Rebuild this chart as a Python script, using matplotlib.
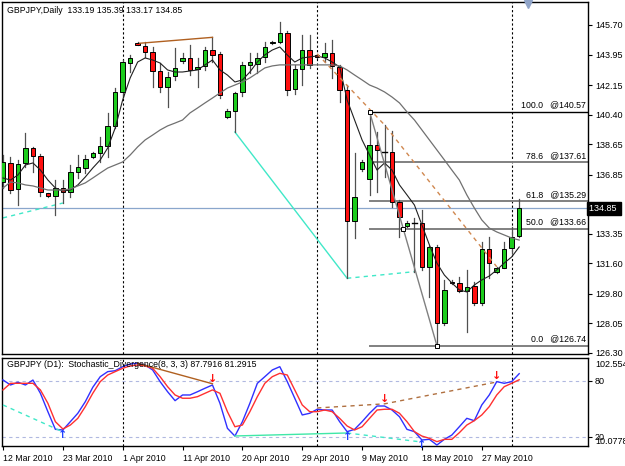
import matplotlib.pyplot as plt
import matplotlib.transforms as mtransforms
import numpy as np

# daily candles, bar 1 = 12 Mar 2010 ... bar 70 = last bar
opens = [136.43, 137.56, 136.00, 137.52, 138.41, 137.95, 135.75, 135.59, 136.04, 135.84,
         137.02, 137.26, 137.88, 138.15, 138.54, 139.73, 141.76, 143.44, 144.62, 144.46,
         144.12, 143.00, 142.02, 142.68, 143.59, 143.73, 143.08, 143.28, 144.22, 143.99,
         140.24, 140.63, 141.76, 143.34, 143.39, 143.79, 144.62, 144.71, 145.25, 141.90,
         143.08, 144.22, 143.93, 143.79, 144.06, 143.23, 141.86, 134.13, 137.17, 136.57,
         138.60, 138.21, 138.21, 135.25, 133.81, 134.01, 134.01, 131.40, 132.59, 128.06,
         130.52, 130.42, 129.99, 130.26, 129.26, 132.43, 131.11, 131.31, 132.49, 133.19]
highs = [138.01, 137.91, 137.72, 139.30, 138.50, 138.07, 135.79, 136.53, 136.53, 137.42,
         138.01, 138.01, 138.21, 139.09, 140.48, 141.96, 143.63, 143.93, 144.67, 144.71,
         144.42, 143.45, 142.94, 144.32, 144.03, 144.52, 143.73, 144.42, 144.97, 144.12,
         140.71, 141.76, 143.53, 144.06, 144.06, 144.71, 144.75, 145.90, 145.36, 143.34,
         145.11, 145.11, 143.99, 144.62, 144.81, 143.34, 142.15, 138.11, 137.69, 140.57,
         139.39, 139.79, 139.45, 135.35, 134.08, 134.27, 134.76, 132.63, 132.69, 130.62,
         130.59, 130.81, 131.21, 130.52, 132.88, 133.14, 131.40, 132.88, 133.77, 135.39]
lows = [136.06, 135.75, 135.05, 137.32, 137.02, 135.59, 135.53, 134.46, 135.15, 135.55,
        136.63, 136.96, 137.82, 137.62, 137.91, 139.59, 141.46, 142.94, 144.49, 143.83,
        142.05, 141.76, 140.83, 142.45, 143.44, 142.74, 142.02, 143.04, 143.53, 141.37,
        140.18, 139.37, 141.50, 142.84, 142.88, 143.53, 144.58, 144.62, 141.56, 141.62,
        142.15, 143.14, 143.73, 143.53, 142.55, 141.16, 130.72, 133.08, 137.08, 135.65,
        135.84, 136.73, 134.95, 133.14, 133.75, 131.11, 131.21, 129.63, 126.74, 127.96,
        130.38, 129.93, 127.56, 129.14, 129.14, 130.72, 131.05, 131.30, 132.20, 133.17]
closes = [137.62, 135.94, 137.48, 138.41, 137.95, 135.84, 135.59, 136.04, 135.84, 137.02,
          137.28, 137.76, 138.15, 138.54, 139.73, 141.76, 143.53, 143.73, 144.52, 144.12,
          143.00, 142.02, 142.64, 143.14, 143.73, 143.04, 143.23, 144.22, 143.93, 141.56,
          140.61, 141.70, 143.34, 143.49, 143.73, 144.38, 144.71, 145.21, 141.86, 143.08,
          144.22, 143.34, 143.79, 144.03, 143.28, 141.86, 134.13, 135.51, 137.62, 138.60,
          138.31, 138.19, 135.25, 134.36, 134.01, 134.00, 131.40, 132.59, 128.06, 130.03,
          130.42, 129.99, 130.22, 129.28, 132.43, 131.61, 131.31, 132.43, 133.14, 134.85]

ma_fast = [136.65, 136.53, 136.83, 137.42, 137.54, 137.12, 136.53, 136.06, 135.88, 135.94,
           136.24, 136.71, 137.24, 137.72, 138.43, 139.61, 141.27, 142.57, 143.51, 143.75,
           143.63, 143.45, 143.04, 142.92, 142.92, 142.98, 143.04, 143.34, 143.63, 143.04,
           142.74, 142.33, 142.45, 142.92, 143.51, 143.93, 144.22, 144.40, 143.93, 143.51,
           143.75, 143.81, 143.87, 143.75, 143.51, 143.22, 141.27, 140.08, 138.90, 138.01,
           137.12, 137.54, 137.12, 136.24, 135.65, 135.05, 133.87, 132.69, 131.62, 130.91,
           130.44, 130.03, 129.91, 130.32, 130.62, 130.85, 131.21, 131.62, 131.98, 132.57]
ma_slow = [136.06, 136.41, 136.36, 136.24, 136.18, 136.06, 135.94, 135.94, 135.94, 136.00,
           136.18, 136.36, 136.65, 136.95, 137.24, 137.42, 137.60, 138.01, 138.49, 138.90,
           139.19, 139.49, 139.73, 139.90, 140.08, 140.50, 140.79, 141.09, 141.38, 141.68,
           141.97, 142.15, 142.33, 142.57, 142.86, 143.16, 143.28, 143.34, 143.34, 143.34,
           143.34, 143.34, 143.34, 143.34, 143.34, 143.28, 143.04, 142.74, 142.45, 142.15,
           141.97, 141.74, 141.44, 141.09, 140.56, 140.08, 139.49, 138.90, 138.31, 137.72,
           137.12, 136.53, 135.65, 134.88, 134.17, 133.69, 133.46, 133.28, 133.10, 132.98]

stoch_main = [81.1, 75.7, 78.6, 75.7, 81.0, 66.8, 47.1, 28.2, 27.5, 36.4,
              45.4, 57.8, 73.2, 84.6, 90.0, 91.0, 95.3, 98.2, 99.0, 97.1,
              91.8, 79.3, 68.5, 58.9, 65.0, 65.0, 68.5, 72.2, 75.7, 56.1,
              29.3, 21.0, 36.4, 56.1, 77.5, 84.6, 91.8, 95.3, 79.3, 61.5,
              43.6, 45.4, 49.7, 48.9, 48.9, 36.4, 25.7, 28.2, 36.4, 45.4,
              53.2, 53.2, 48.9, 41.7, 28.2, 25.7, 16.8, 17.5, 11.4, 17.5,
              22.1, 31.0, 40.0, 37.5, 54.3, 65.0, 79.3, 77.5, 79.3, 87.8]
stoch_signal = [70.4, 77.5, 77.5, 77.5, 77.5, 70.4, 56.1, 36.4, 28.6, 32.8,
                40.0, 52.5, 66.8, 79.3, 86.4, 90.0, 93.6, 96.1, 97.1, 96.1,
                93.6, 84.6, 73.9, 65.0, 61.5, 61.5, 63.2, 66.8, 70.4, 66.8,
                47.1, 31.0, 32.8, 47.1, 63.2, 77.5, 84.6, 88.2, 86.4, 70.4,
                54.3, 47.1, 47.1, 48.9, 47.1, 40.0, 31.8, 27.5, 31.0, 40.0,
                48.9, 49.7, 49.7, 45.4, 36.4, 25.7, 21.0, 18.6, 15.0, 17.5,
                17.5, 24.6, 32.8, 37.5, 43.6, 52.5, 65.0, 73.9, 77.5, 81.3]

date_bars = [1, 9, 17, 25, 33, 41, 49, 57, 65]
date_labels = ['12 Mar 2010', '23 Mar 2010', '1 Apr 2010', '11 Apr 2010', '20 Apr 2010',
               '29 Apr 2010', '9 May 2010', '18 May 2010', '27 May 2010']
separator_bars = [17, 43, 69]
price_ticks = [145.70, 143.95, 142.15, 140.40, 138.65, 136.85, 135.10,
               133.35, 131.60, 129.80, 128.05, 126.30]
fib_pcts = ['100.0', '78.6', '61.8', '50.0', '0.0']
fib_prices = [140.57, 137.61, 135.29, 133.66, 126.74]
fib_start, fib_end = 50, 59
last_price = 134.85

# divergence lines (bar, value)
bear_price = ([19.3, 29], [144.62, 144.97])
bear_price_dash = ([43, 52, 67], [143.99, 139.79, 131.40])
bull_price = ([32, 47], [139.37, 130.72])
bull_price_dash = ([47, 56], [130.72, 131.11])
bull_price_dash_left = ([1, 9], [134.29, 135.17])
bear_stoch = ([19, 29], [99.0, 77.0])
bear_stoch_dash = ([43, 52, 67], [51.1, 55.5, 78.9])
bull_stoch = ([32, 47], [21.1, 24.3])
bull_stoch_dash = ([47, 57], [24.3, 14.6])
bull_stoch_dash_left = ([1, 9], [54.3, 25.5])
up_arrows = [(9, 27.5), (47, 25.7), (57, 16.8)]
down_arrows = [(29, 77.0), (52, 55.0), (67, 80.0)]

GREEN = '#1ccc1c'
RED = '#ff1010'

fig = plt.figure(figsize=(6.25, 4.66), dpi=100)
plt.rcParams['font.family'] = ['Liberation Sans', 'DejaVu Sans']
ax = fig.add_axes([2 / 625, 1 - 354 / 466, 586 / 625, 352 / 466])
ax2 = fig.add_axes([2 / 625, 1 - 446 / 466, 586 / 625, 88 / 466])

bars = np.arange(1, len(opens) + 1)
xlim = (0.866, 79.2)

# candles
for i, o, h, l, c in zip(bars, opens, highs, lows, closes):
    ax.plot([i, i], [l, h], color='#505050', lw=0.9, zorder=3)
    lo, hi = min(o, c), max(o, c)
    col = GREEN if c >= o else RED
    if hi - lo < 0.06:
        ax.plot([i - 0.3, i + 0.3], [o, o], color='black', lw=1.0, zorder=4)
    else:
        ax.add_patch(plt.Rectangle((i - 0.3, lo), 0.6, hi - lo, facecolor=col,
                                   edgecolor='black', lw=0.7, zorder=4))

ax.plot(bars, ma_fast, color='#202020', lw=0.8, zorder=5)
ax.plot(bars, ma_slow, color='#707070', lw=0.9, zorder=5)

# current price line
ax.axhline(last_price, color='#8aa6cc', lw=0.9, zorder=1)

# fibonacci
for pct, p in zip(fib_pcts, fib_prices):
    col = 'black' if pct == '100.0' else '#808080'
    ax.plot([fib_start, xlim[1]], [p, p], color=col, lw=1.0 if pct == '100.0' else 1.4, zorder=2)
    ax.text(78.9, p + 0.12, pct + '   @' + f'{p:.2f}', ha='right', va='bottom', fontsize=6.3)
ax.plot([fib_start, fib_end], [fib_prices[0], fib_prices[-1]], color='#808080', lw=1.0, zorder=6)
mid = (fib_start + fib_end) / 2, (fib_prices[0] + fib_prices[-1]) / 2
ax.plot([fib_start, mid[0], fib_end], [fib_prices[0], mid[1], fib_prices[-1]], 's',
        ms=3.5, mfc='white', mec='black', mew=0.7, zorder=7)

# divergence lines on price
ax.plot(*bear_price, color='#b06020', lw=1.0, zorder=6)
ax.plot(*bear_price_dash, color='#d08850', lw=1.0, ls=(0, (3, 3)), zorder=6)
ax.plot(*bull_price, color='#40e8c8', lw=1.0, zorder=2)
ax.plot(*bull_price_dash, color='#40e8c8', lw=1.0, ls=(0, (3, 3)), zorder=2)
ax.plot(*bull_price_dash_left, color='#40e8c8', lw=1.0, ls=(0, (3, 3)), zorder=2)

for a in (ax, ax2):
    for b in separator_bars:
        a.axvline(b, color='black', lw=0.8, ls=(0, (2, 2)), zorder=1)
    a.set_xlim(*xlim)
    for s in a.spines.values():
        s.set_color('black')
        s.set_linewidth(1.0)

ax.set_ylim(126.24, 147.06)
ax.yaxis.tick_right()
ax.set_yticks(price_ticks)
ax.set_yticklabels([f'{t:.2f}' if t != 135.10 else '' for t in price_ticks])
ax.tick_params(axis='y', labelsize=6.5, length=3, pad=2, direction='out')
ax.set_xticks([])
ax.text(0.008, 0.988, 'GBPJPY,Daily  133.19 135.39 133.17 134.85', transform=ax.transAxes,
        fontsize=6.3, va='top', ha='left')
trans = mtransforms.blended_transform_factory(ax.transAxes, ax.transData)
ax.text(1.002, last_price, '134.85 ', transform=trans, fontsize=6.5, color='white',
        va='center', ha='left', clip_on=False, zorder=10,
        bbox=dict(boxstyle='square,pad=0.2', fc='black', ec='black'))
ax.plot([71.2], [146.95], marker='v', ms=6, color='#90a4c8', clip_on=False, zorder=8)

# stochastic panel
ax2.plot(bars, stoch_main, color='#3030ff', lw=1.0, zorder=4)
ax2.plot(bars, stoch_signal, color='#ff3030', lw=1.0, zorder=4)
for lvl in (80, 20):
    ax2.axhline(lvl, color='#b0b8e0', lw=0.8, ls=(0, (3, 3)), zorder=1)
ax2.plot(*bear_stoch, color='#b06020', lw=1.0, zorder=5)
ax2.plot(*bear_stoch_dash, color='#b07040', lw=1.0, ls=(0, (3, 3)), zorder=5)
ax2.plot(*bull_stoch, color='#40e8a8', lw=1.0, zorder=5)
ax2.plot(*bull_stoch_dash, color='#40e8c8', lw=1.0, ls=(0, (3, 3)), zorder=5)
ax2.plot(*bull_stoch_dash_left, color='#40e8c8', lw=1.0, ls=(0, (3, 3)), zorder=5)
for b, v in up_arrows:
    ax2.text(b, v, '\u2191', color='#2040ff', fontsize=8, fontweight='bold',
             ha='center', va='top', family='DejaVu Sans', zorder=6)
for b, v in down_arrows:
    ax2.text(b, v, '\u2193', color='#ff1010', fontsize=8, fontweight='bold',
             ha='center', va='bottom', family='DejaVu Sans', zorder=6)

ax2.set_ylim(10.36, 104.6)
ax2.yaxis.tick_right()
ax2.set_yticks([80, 20])
ax2.set_yticklabels(['80', '20'])
ax2.tick_params(axis='y', labelsize=6.5, length=3, pad=2)
trans2 = mtransforms.blended_transform_factory(ax2.transAxes, ax2.transData)
ax2.text(1.012, 102.5549, '102.5549', transform=trans2, fontsize=6.5, va='top', ha='left')
ax2.text(1.012, 10.0778, '10.0778', transform=trans2, fontsize=6.5, va='bottom', ha='left')
ax2.text(0.008, 0.975, 'GBPJPY (D1):  Stochastic_Divergence(8, 3, 3) 87.7916 81.2915',
         transform=ax2.transAxes, fontsize=6.3, va='top', ha='left', zorder=7)
ax2.set_xticks(date_bars)
ax2.set_xticklabels(date_labels, fontsize=6.3)
for lab in ax2.get_xticklabels():
    lab.set_ha('left')
ax2.tick_params(axis='x', length=3, pad=3)

fig.savefig('out.png', dpi=100, facecolor='white')
